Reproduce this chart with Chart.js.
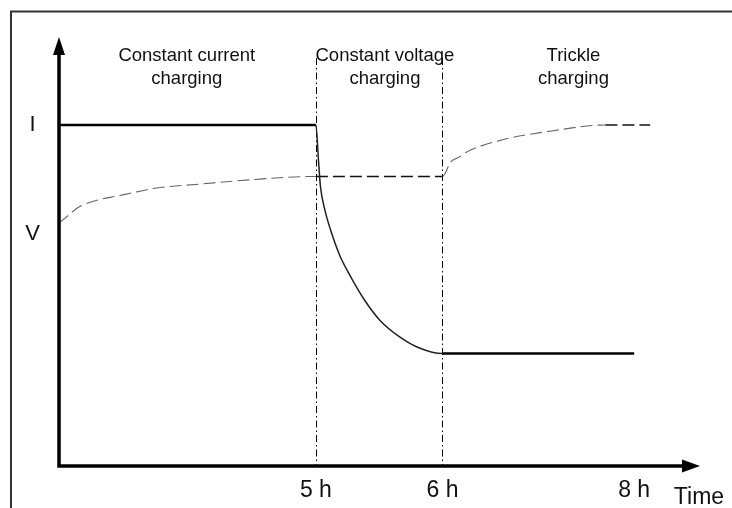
<!DOCTYPE html>
<html>
<head>
<meta charset="utf-8">
<style>
  html, body { margin: 0; padding: 0; background: #fff; }
  #wrap { width: 732px; height: 508px; position: relative; }
</style>
<script src="https://cdn.jsdelivr.net/npm/chart.js@4/dist/chart.umd.min.js"></script>
</head>
<body>
<div id="wrap"><canvas id="chart" width="732" height="508"></canvas></div>
<script>
// schematic units: time axis 0..100, level axis 0..100
const timeTicks = [40.2, 60, 90];
const timeTickLabels = ["5 h", "6 h", "8 h"];
const phaseEdges = [40.2, 60];
const phaseCenters = [20, 51, 80.5];
const phaseNames = [["Constant current", "charging"], ["Constant voltage", "charging"], ["Trickle", "charging"]];
const levelLabels = ["I", "V"];
const levelLabelValues = [79.5, 54];

const currentTime = [0, 40.2, 40.6, 40.9, 41.6, 42.5, 43.9, 45.5, 47.8, 50.2, 53.3, 56.4, 60, 90];
const currentLevel = [79.5, 79.5, 71.3, 65.3, 59.7, 55.0, 49.2, 44.5, 38.7, 34.0, 30.1, 27.5, 26.2, 26.2];

const voltageTime = [0, 1.7, 2.8, 6.1, 9.0, 12.2, 15.3, 22, 29.8, 40.2, 60, 61.3, 62.6, 63.8, 69.3, 77.1, 85.5, 92.5];
const voltageLevel = [56.6, 58.7, 60.1, 62.0, 62.9, 63.9, 64.8, 65.7, 66.7, 67.5, 67.5, 70.9, 72.0, 73.2, 76.0, 78.1, 79.5, 79.5];

const FONT = "'Liberation Sans', Arial, sans-serif";

function toPoints(xs, ys) {
    return xs.map((x, i) => ({ x: x, y: ys[i] }));
}

const isFlat = (ctx) => ctx.p0.parsed.y === ctx.p1.parsed.y;

const diagram = {
    id: "diagram",
    beforeDraw(chart) {
        const c = chart.ctx;
        c.save();
        c.fillStyle = "#fff";
        c.fillRect(0, 0, chart.width, chart.height);
        // outer frame (top and left only visible)
        c.strokeStyle = "#333";
        c.lineWidth = 2;
        c.beginPath();
        c.moveTo(11, chart.height);
        c.lineTo(11, 11.5);
        c.lineTo(chart.width, 11.5);
        c.stroke();
        c.restore();
    },
    beforeDatasetsDraw(chart) {
        const c = chart.ctx;
        const xs = chart.scales.x;
        const area = chart.chartArea;
        c.save();
        // phase boundaries
        c.strokeStyle = "#000";
        c.lineWidth = 1;
        c.setLineDash([7, 3, 1.5, 3]);
        phaseEdges.forEach((t) => {
            const px = Math.round(xs.getPixelForValue(t)) + 0.5;
            c.beginPath();
            c.moveTo(px, area.top + 21);
            c.lineTo(px, area.bottom);
            c.stroke();
        });
        c.setLineDash([]);
        // phase names
        c.fillStyle = "#111";
        c.font = "18.5px " + FONT;
        c.textAlign = "center";
        c.textBaseline = "alphabetic";
        phaseNames.forEach((lines, i) => {
            const px = xs.getPixelForValue(phaseCenters[i]);
            lines.forEach((txt, j) => c.fillText(txt, px, 60.5 + j * 23));
        });
        c.restore();
    },
    afterDatasetsDraw(chart) {
        const c = chart.ctx;
        const xs = chart.scales.x;
        const ys = chart.scales.y;
        const area = chart.chartArea;
        c.save();
        // axes with arrows
        c.strokeStyle = "#000";
        c.fillStyle = "#000";
        c.lineWidth = 3.5;
        c.beginPath();
        c.moveTo(area.left, area.bottom + 1.7);
        c.lineTo(area.left, area.top + 15);
        c.moveTo(area.left - 1.7, area.bottom);
        c.lineTo(area.right - 15, area.bottom);
        c.stroke();
        c.beginPath();
        c.moveTo(area.left, area.top);
        c.lineTo(area.left - 6, area.top + 18);
        c.lineTo(area.left + 6, area.top + 18);
        c.closePath();
        c.fill();
        c.beginPath();
        c.moveTo(area.right, area.bottom);
        c.lineTo(area.right - 18, area.bottom - 6.5);
        c.lineTo(area.right - 18, area.bottom + 6.5);
        c.closePath();
        c.fill();
        // tick labels
        c.fillStyle = "#111";
        c.font = "23px " + FONT;
        c.textAlign = "center";
        c.textBaseline = "alphabetic";
        timeTicks.forEach((t, i) => {
            c.fillText(timeTickLabels[i], xs.getPixelForValue(t), area.bottom + 31);
        });
        c.fillText("Time", area.right - 1, area.bottom + 37.5);
        c.font = "22px " + FONT;
        c.textBaseline = "middle";
        levelLabels.forEach((txt, i) => {
            c.fillText(txt, 32.5, ys.getPixelForValue(levelLabelValues[i]));
        });
        c.restore();
    }
};

new Chart(document.getElementById("chart"), {
    type: "line",
    data: {
        datasets: [
            {
                label: "I",
                data: toPoints(currentTime, currentLevel),
                borderColor: "#000",
                borderWidth: 2.5,
                pointRadius: 0,
                cubicInterpolationMode: "monotone",
                segment: {
                    borderWidth: (ctx) => (isFlat(ctx) ? 2.5 : 1.5),
                    borderColor: (ctx) => (isFlat(ctx) ? "#000" : "#222")
                }
            },
            {
                label: "V",
                data: toPoints(voltageTime, voltageLevel),
                borderColor: "#111",
                borderWidth: 1.4,
                borderDash: [12, 5],
                pointRadius: 0,
                cubicInterpolationMode: "monotone",
                segment: {
                    borderWidth: (ctx) => (isFlat(ctx) ? 1.5 : 1.1),
                    borderColor: (ctx) => (isFlat(ctx) ? "#111" : "#666")
                }
            }
        ]
    },
    options: {
        responsive: false,
        animation: false,
        layout: { padding: { left: 59, right: 32, top: 37, bottom: 42 } },
        scales: {
            x: { type: "linear", min: 0, max: 100.3, display: false },
            y: { type: "linear", min: 0, max: 100, display: false }
        },
        plugins: {
            legend: { display: false },
            tooltip: { enabled: false }
        },
        clip: false
    },
    plugins: [diagram]
});
</script>
</body>
</html>
